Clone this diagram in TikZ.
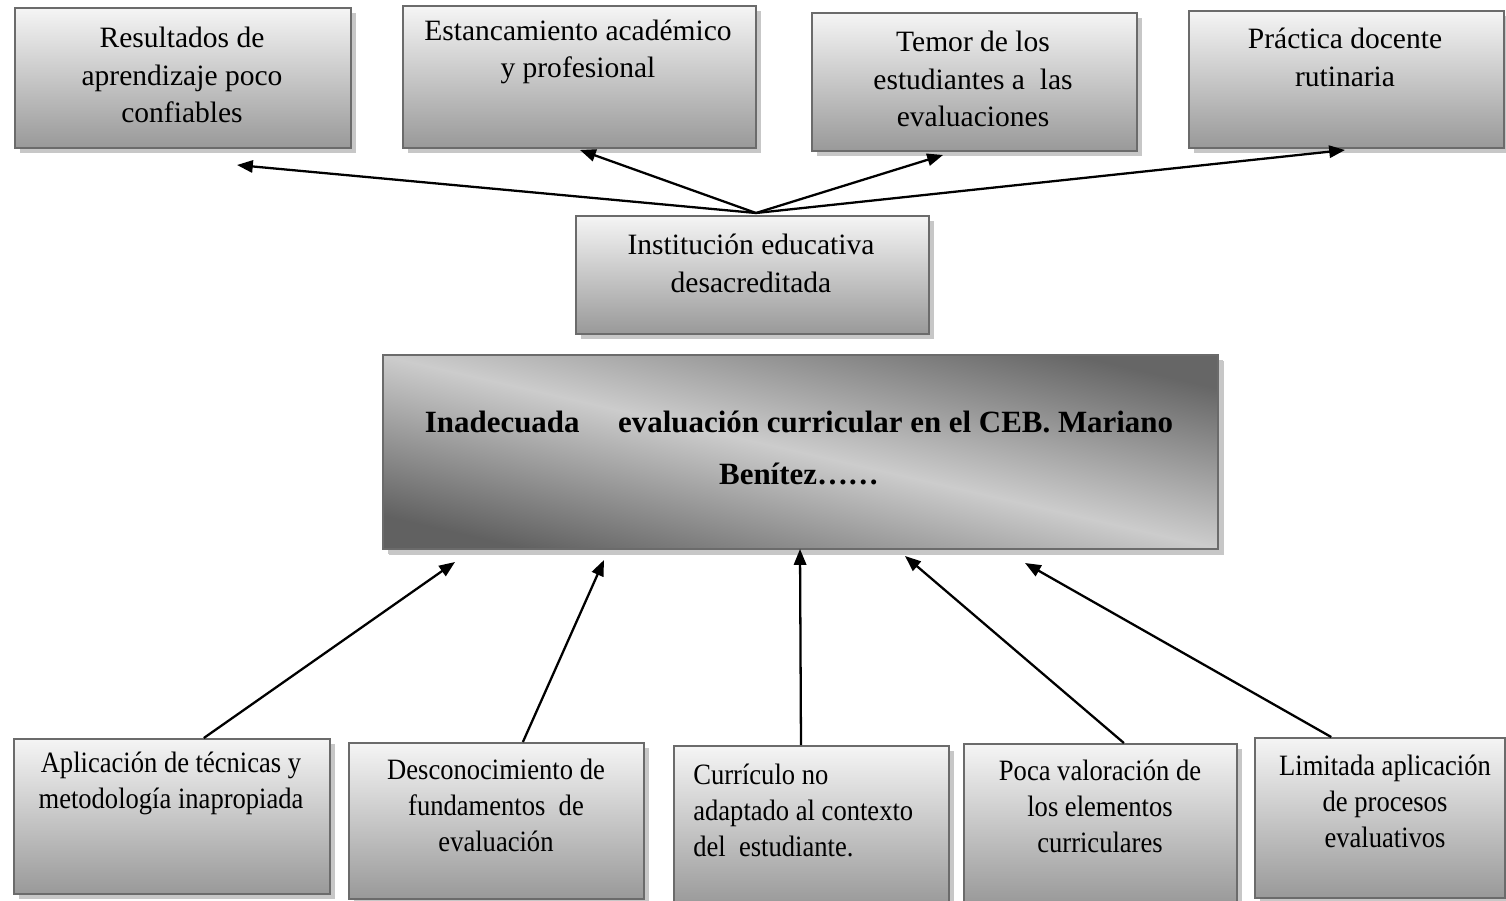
\documentclass[tikz,border=0pt]{standalone}
\usepackage{fontspec}
\setmainfont{Liberation Serif}
\newfontfamily\estrecha[FakeStretch=0.9]{Liberation Serif}
\usetikzlibrary{positioning,shadows,arrows.meta}

\begin{document}
\begin{tikzpicture}[x=0.02cm,y=-0.02cm]
\tikzset{caja/.style={draw=black!58,line width=1.2pt,anchor=north west,inner sep=0pt,
    top color=white!96!black,bottom color=black!40,
    drop shadow={fill=black!22,opacity=1,shadow xshift=2.8pt,shadow yshift=-2.8pt}}}
\tikzset{problema/.style={caja,top color=black!60,bottom color=black!62,middle color=black!20,shading angle=-13}}
\tikzset{texto/.style={align=center,inner sep=0pt,font=\fontsize{16.8}{21.5}\selectfont}}
\tikzset{textocausa/.style={texto,font=\estrecha\fontsize{16.8}{20.5}\selectfont}}
\tikzset{titulo/.style={align=center,inner sep=0pt,font=\fontsize{17.6}{30}\selectfont\bfseries}}
\tikzset{flecha/.style={-{Triangle[length=9pt,width=7pt]},line width=1.3pt}}
\useasboundingbox (0,0) rectangle (1506,900);

% efectos
\node[caja,minimum width=6.72cm,minimum height=2.8cm] (efecto1) at (14,7) {};
\node[caja,minimum width=7.06cm,minimum height=2.84cm] (efecto2) at (402,5) {};
\node[caja,minimum width=6.5cm,minimum height=2.76cm] (efecto3) at (811,12) {};
\node[caja,minimum width=6.3cm,minimum height=2.74cm] (efecto4) at (1188,10) {};
\node[texto] (tefecto1) at (182,75) {Resultados de\\aprendizaje poco\\confiables};
\node[texto] (tefecto2) at (578,52) {Estancamiento académico\\y profesional};
\node[texto] (tefecto3) at (973,79) {Temor de los\\estudiantes a\ \ las\\evaluaciones};
\node[texto] (tefecto4) at (1345,57) {Práctica docente\\rutinaria};

% efecto central
\node[caja,minimum width=7.06cm,minimum height=2.36cm] (institucion) at (575,215) {};
\node[texto] (tinstitucion) at (751,263) {Institución educativa\\desacreditada};

% problema
\node[problema,minimum width=16.7cm,minimum height=3.88cm,
      drop shadow={fill=black!22,opacity=1,shadow xshift=3.4pt,shadow yshift=-3.4pt}] (problema) at (382,354) {};
\node[titulo] (tproblema) at (799,448) {Inadecuada\quad\ evaluación curricular en el CEB. Mariano\\Benítez……};

% causas
\node[caja,minimum width=6.32cm,minimum height=3.1cm] (causa1) at (13,738) {};
\node[caja,minimum width=5.9cm,minimum height=3.12cm] (causa2) at (348,742) {};
\node[caja,minimum width=5.5cm,minimum height=3.2cm] (causa3) at (673,745) {};
\node[caja,minimum width=5.46cm,minimum height=3.2cm] (causa4) at (963,743) {};
\node[caja,minimum width=5.0cm,minimum height=3.2cm] (causa5) at (1254,737) {};
\node[textocausa] (tcausa1) at (171,783) {Aplicación de técnicas y\\metodología inapropiada};
\node[textocausa] (tcausa2) at (496,805) {Desconocimiento de\\fundamentos\ \ de\\evaluación};
\node[textocausa,align=left,anchor=west] (tcausa3) at (693,810) {Currículo no\\adaptado al contexto\\del\ \ estudiante.};
\node[textocausa] (tcausa4) at (1100,806) {Poca valoración de\\los elementos\\curriculares};
\node[textocausa] (tcausa5) at (1385,801) {Limitada aplicación\\de procesos\\evaluativos};

% flechas
\coordinate (cima) at (756,213);
\coordinate (fin1) at (237,165);
\coordinate (fin2) at (580,150);
\coordinate (fin3) at (943,155);
\coordinate (fin4) at (1345,150);
\draw[flecha] (cima) -- (fin1);
\draw[flecha] (cima) -- (fin2);
\draw[flecha] (cima) -- (fin3);
\draw[flecha] (cima) -- (fin4);

\coordinate (base1) at (455,562);
\coordinate (base2) at (604,560);
\coordinate (base3) at (800,549);
\coordinate (base4) at (905,556);
\coordinate (base5) at (1025,563);
\draw[flecha] ([xshift=18.1pt]causa1.north) -- (base1);
\draw[flecha] ([xshift=15pt]causa2.north) -- (base2);
\draw[flecha] ([xshift=-6pt]causa3.north) -- (base3);
\draw[flecha] ([xshift=13.3pt]causa4.north) -- (base4);
\draw[flecha] ([xshift=-27.8pt]causa5.north) -- (base5);
\end{tikzpicture}
\end{document}
